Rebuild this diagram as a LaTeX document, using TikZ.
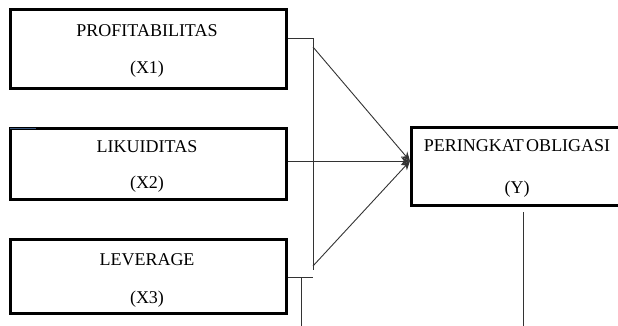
\documentclass[tikz,border=0pt]{standalone}
\usepackage{fontspec}
\setmainfont{Liberation Serif}
\usetikzlibrary{arrows.meta}
\definecolor{steel}{RGB}{60,90,130}
\begin{document}
\begin{tikzpicture}[x=1pt,y=-1pt,
  varbox/.style={draw=black,line width=3pt,rectangle,inner sep=0pt,align=center},
  conn/.style={draw=black!80,line width=0.9pt},
  arr/.style={conn,-{Stealth[length=9pt,width=8pt]}},
  lbl/.style={font=\fontsize{18}{20}\selectfont,inner sep=0pt}]
\useasboundingbox (0,0) rectangle (618,325);
% boxes
\node[varbox,minimum width=276pt,minimum height=79pt] (x1) at (148,48.5) {};
\node[varbox,minimum width=276pt,minimum height=71pt] (x2) at (148,163.5) {};
\node[varbox,minimum width=276pt,minimum height=74pt] (x3) at (148,276) {};
\node[varbox,minimum width=210pt,minimum height=78pt] (y) at (516,166) {};
% labels
\node[lbl] (t1a) at (147,31) {PROFITABILITAS};
\node[lbl] (t1b) at (147,69) {(X1)};
\node[lbl] (t2a) at (147,147) {LIKUIDITAS};
\node[lbl] (t2b) at (147,184) {(X2)};
\node[lbl] (t3a) at (147,260) {LEVERAGE};
\node[lbl] (t3b) at (147,299) {(X3)};
\node[lbl] (tya) at (517,146) {PERINGKAT\hspace{-2pt} OBLIGASI};
\node[lbl] (tyb) at (517,189) {(Y)};
% small blue stroke
\coordinate (b1) at (10,128.5);
\coordinate (b2) at (36,128.5);
\draw[draw=steel,line width=1.2pt] (b1) -- (b2);
% junction coordinates
\coordinate (h1) at (313,38.5);
\coordinate (v1) at (313,270);
\coordinate (d1) at (313,47);
\coordinate (d3) at (313,266);
\coordinate (h3) at (312.5,277.5);
\coordinate (v2a) at (301.5,278);
\coordinate (v2b) at (301.5,326);
\coordinate (yv1) at (523,212);
\coordinate (yv2) at (523,326);
\coordinate (tip) at (410,161);
% connectors
\draw[conn] (x1.east |- h1) -- (h1) -- (v1);
\draw[conn] (x3.east |- h3) -- (h3);
\draw[conn] (v2a) -- (v2b);
\draw[arr] (d1) -- (tip);
\draw[arr] (x2.east |- tip) -- (tip);
\draw[arr] (d3) -- (tip);
\draw[conn] (yv1) -- (yv2);
\end{tikzpicture}
\end{document}
